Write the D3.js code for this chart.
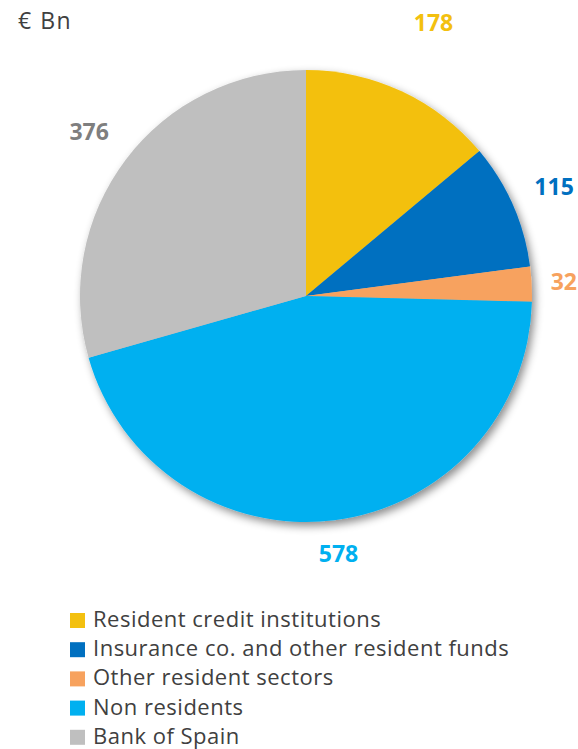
<!DOCTYPE html>
<html><head><meta charset="utf-8">
<script src="https://cdn.jsdelivr.net/npm/d3@7"></script>
<style>html,body{margin:0;padding:0;background:#fff;}svg{display:block;}</style>
</head><body>
<svg id="c" width="578" height="749"></svg>
<script>
const categories = ["Resident credit institutions","Insurance co. and other resident funds","Other resident sectors","Non residents","Bank of Spain"];
const values = [178, 115, 32, 578, 376];
const unitLabel = "€ Bn";

const colors = ["#F3C00F","#0070C0","#F7A25E","#00B0F0","#BFBFBF"];
const labelColors = ["#F3C00F","#0070C0","#F7A25E","#00B0F0","#7F7F7F"];

const W = 578, H = 749;
const cx = 306, cy = 296, R = 226;
const svg = d3.select("#c");
const font = "'Open Sans', sans-serif";

const defs = svg.append("defs");
const f = defs.append("filter").attr("id","sh").attr("x","-20%").attr("y","-20%").attr("width","140%").attr("height","140%");
f.append("feDropShadow").attr("dx",3).attr("dy",4).attr("stdDeviation",4).attr("flood-color","#000").attr("flood-opacity",0.45);

svg.append("text").attr("x",18).attr("y",29).attr("font-family",font).attr("font-size",23)
  .attr("letter-spacing",1.5).attr("fill","#404040").text(unitLabel);

const pie = d3.pie().sort(null).value(d=>d)(values);
const arc = d3.arc().innerRadius(0).outerRadius(R);
const g = svg.append("g").attr("transform",`translate(${cx},${cy})`);
g.append("g").attr("filter","url(#sh)").selectAll("path").data(pie).join("path")
  .attr("d",arc).attr("fill",(d,i)=>colors[i]);

// outside-end labels
const gap = 248, hh = 12, charW = 14;
const extraNudge = [40,0,0,0,4];
pie.forEach((d,i)=>{
  const a = (d.startAngle+d.endAngle)/2;
  const s = Math.sin(a), c = Math.cos(a);
  const hw = String(values[i]).length*charW/2;
  const ext = Math.min(Math.abs(s)>1e-6?hw/Math.abs(s):1e9, Math.abs(c)>1e-6?hh/Math.abs(c):1e9);
  const r = gap + ext + extraNudge[i];
  const t = g.append("text").attr("x", r*s).attr("y", -r*c).attr("dy","0.35em")
    .attr("text-anchor","middle").attr("font-family",font).attr("font-weight","bold")
    .attr("font-size",23).attr("fill",labelColors[i]).text(values[i]);
  // keep label inside the canvas
  const bb = t.node().getBBox();
  const over = (cx + bb.x + bb.width) - (W - 1);
  if (over > 0) t.attr("x", r*s - over);
});

const lg = svg.append("g").attr("transform","translate(70,627)");
const rowH = 29.2;
categories.forEach((c,i)=>{
  lg.append("rect").attr("x",0).attr("y",i*rowH-14).attr("width",15).attr("height",15).attr("fill",colors[i]);
  lg.append("text").attr("x",23).attr("y",i*rowH).attr("font-family",font).attr("font-size",22)
    .attr("letter-spacing",0.5).attr("fill","#404040").text(c);
});
</script>
</body></html>
